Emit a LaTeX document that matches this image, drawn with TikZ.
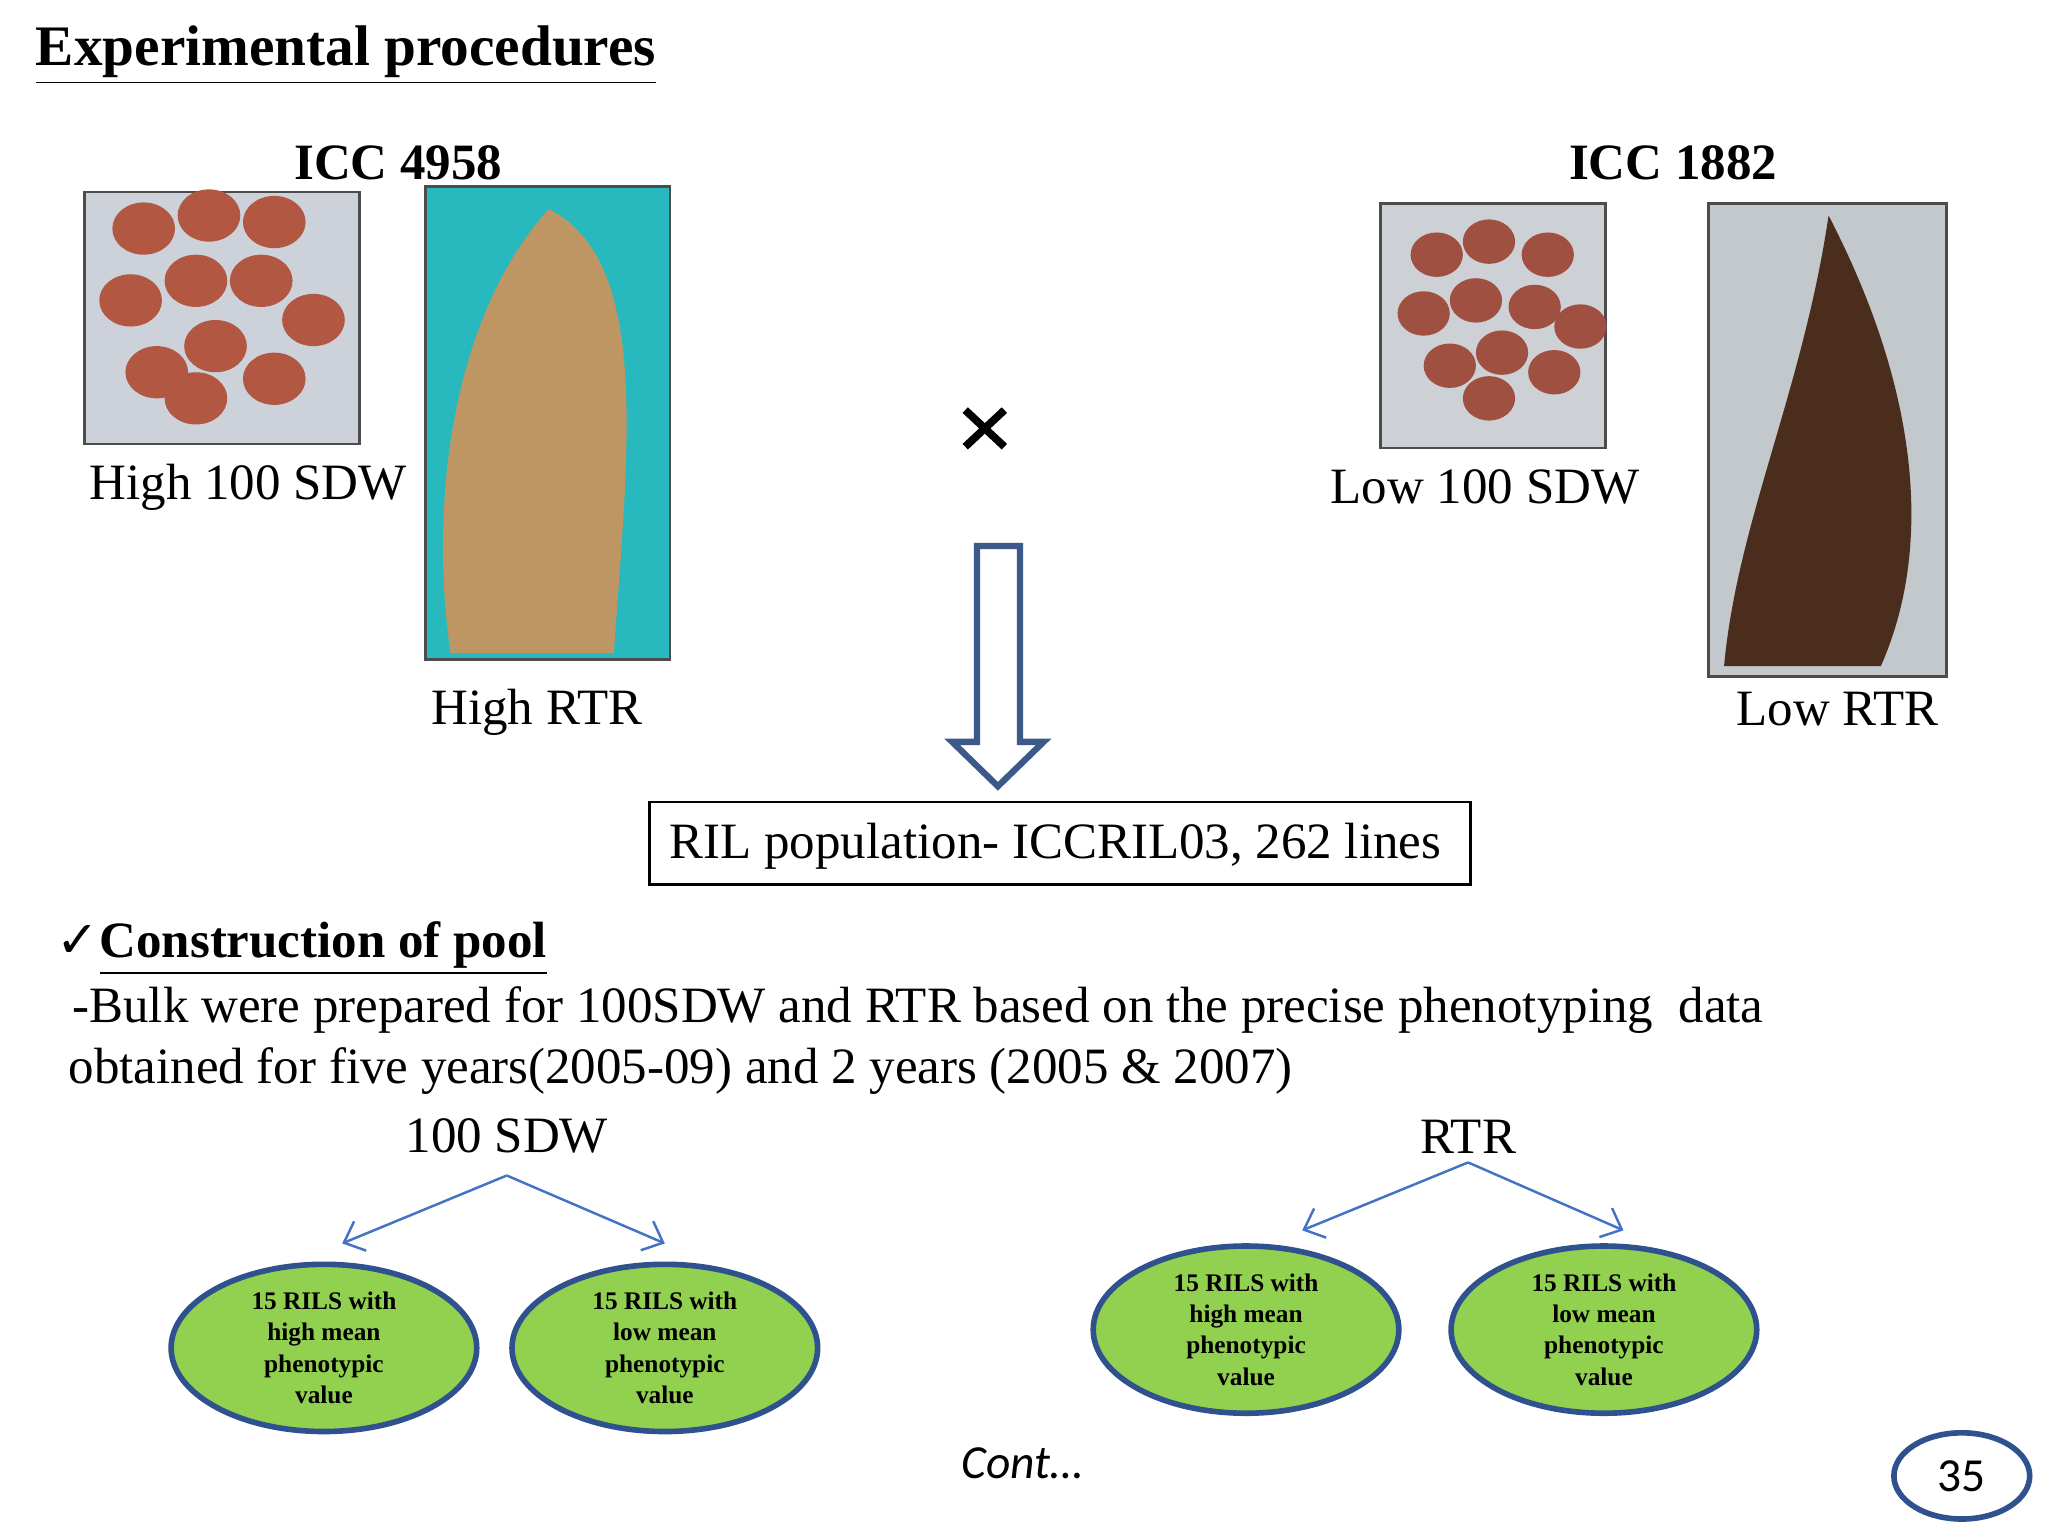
\documentclass[tikz,border=0pt]{standalone}
\usepackage{fontspec}
\setmainfont{Liberation Serif}
\newfontfamily\calib{Carlito}
\newfontfamily\dejavu{DejaVu Sans}
\usetikzlibrary{shapes.geometric,arrows.meta}
\definecolor{grn}{HTML}{92D050}
\definecolor{dblue}{HTML}{2F528F}
\definecolor{lblue}{HTML}{4472C4}
\definecolor{arrb}{RGB}{59,90,138}
\definecolor{bg1}{RGB}{205,210,218}
\definecolor{seed1}{RGB}{178,88,66}
\definecolor{cyanbg}{RGB}{40,185,190}
\definecolor{root1}{RGB}{190,150,100}
\definecolor{bg2}{RGB}{205,208,212}
\definecolor{seed2}{RGB}{160,80,65}
\definecolor{bg3}{RGB}{195,200,205}
\definecolor{root2}{RGB}{75,45,30}
\newcommand\ul[1]{\underline{#1}}
\begin{document}
\begin{tikzpicture}[x=0.01306cm,y=-0.01306cm,
  lbl/.style={font=\fontsize{14.5}{17}\selectfont,inner sep=0pt},
  pool/.style={ellipse,draw=dblue,line width=1.6pt,fill=grn,
     align=center,font=\fontsize{7.2}{8.9}\selectfont\bfseries,inner sep=0pt,
     minimum width=3.056cm,minimum height=1.672cm},
  thinarr/.style={draw=lblue,line width=0.7pt,-{Straight Barb[length=5pt,width=9pt]}},
  photo/.style={draw=black!70,line width=0.8pt}]
\useasboundingbox (0,0) rectangle (1568,1176);
\fill[white] (0,0) rectangle (1568,1176);
\node[lbl,anchor=west,font=\fontsize{16.3}{18}\selectfont\bfseries] (title) at (27,42) {\ul{Experimental procedures}};
\node[lbl,font=\fontsize{14.5}{17}\selectfont\bfseries] (p1) at (305,125) {ICC 4958};
\node[lbl,font=\fontsize{14.5}{17}\selectfont\bfseries] (p2) at (1281,125) {ICC 1882};
\fill[photo,fill=bg1] (65,147) rectangle (275,340);
\foreach \x/\y in {110/175, 160/165, 210/170, 100/230, 150/215, 200/215, 240/245, 120/285, 165/265, 210/290, 150/305}
  \fill[seed1] (\x,\y) ellipse (24 and 20);
\fill[photo,fill=cyanbg] (326,143) rectangle (513,505);
\fill[root1] (420,160) .. controls (500,200) and (480,350) .. (470,500) -- (345,500) .. controls (330,400) and (340,250) .. (420,160);
\draw[photo] (326,143) rectangle (513,505);
\fill[photo,fill=bg2] (1057,156) rectangle (1229,343);
\foreach \x/\y in {1100/195, 1140/185, 1185/195, 1090/240, 1130/230, 1175/235, 1210/250, 1110/280, 1150/270, 1190/285, 1140/305}
  \fill[seed2] (\x,\y) ellipse (20 and 17);
\fill[photo,fill=bg3] (1308,156) rectangle (1490,518);
\fill[root2] (1400,165) .. controls (1470,300) and (1480,420) .. (1440,510) -- (1320,510) .. controls (1330,400) and (1380,300) .. (1400,165);
\draw[photo] (1308,156) rectangle (1490,518);
\node[lbl] (l1) at (190,373) {High 100 SDW};
\node[lbl] (l2) at (411,545) {High RTR};
\node[lbl] (l3) at (1137,373) {Low 100 SDW};
\node[lbl] (l4) at (1407,543) {Low RTR};
\node[inner sep=0pt] (x) at (754,328) {};
\draw[line width=2.2pt] (739,314) -- (769,342) (769,314) -- (739,342);
\draw[draw=arrb,line width=1.8pt,fill=white,line join=miter]
  (748,418) -- (781,418) -- (781,568) -- (799,568) -- (764,602) -- (729,568) -- (748,568) -- cycle;
\draw[line width=0.8pt] (497,614) rectangle (1126,677);
\node[lbl] (rilt) at (808,648) {RIL population- ICCRIL03, 262 lines};
\node[lbl,anchor=west,font=\fontsize{14.5}{17}\selectfont\bfseries] (cons) at (43,726) {{\dejavu\mdseries ✓}\ul{Construction of pool}};
\node[lbl,anchor=west] (b1) at (55,773) {-Bulk were prepared for 100SDW and RTR based on the precise phenotyping\ \ data};
\node[lbl,anchor=west] (b2) at (52,820) {obtained for five years(2005-09) and 2 years (2005 \& 2007)};
\node[lbl] (sdw) at (388,870) {100 SDW};
\node[lbl] (rtr) at (1124,870) {RTR};
\coordinate (s0) at (388,900);
\coordinate (r0) at (1124,890);
\node[pool] (e1) at (248,1032) {15 RILS with\\high mean\\phenotypic\\value};
\node[pool] (e2) at (509,1032) {15 RILS with\\low mean\\phenotypic\\value};
\node[pool] (e3) at (954,1018) {15 RILS with\\high mean\\phenotypic\\value};
\node[pool] (e4) at (1228,1018) {15 RILS with\\low mean\\phenotypic\\value};
\coordinate (a1) at (262,952); \coordinate (a2) at (509,952);
\coordinate (a3) at (997,942); \coordinate (a4) at (1243,942);
\draw[thinarr] (s0) -- (a1);
\draw[thinarr] (s0) -- (a2);
\draw[thinarr] (r0) -- (a3);
\draw[thinarr] (r0) -- (a4);
\node[lbl,font=\calib\itshape\fontsize{13.5}{15}\selectfont] (cont) at (783,1120) {Cont…};
\node[ellipse,draw=dblue,line width=1.6pt,minimum width=1.358cm,minimum height=0.862cm,font=\calib\fontsize{13.5}{15}\selectfont,inner sep=0pt] (pg) at (1502,1130) {35};
\end{tikzpicture}
\end{document}
